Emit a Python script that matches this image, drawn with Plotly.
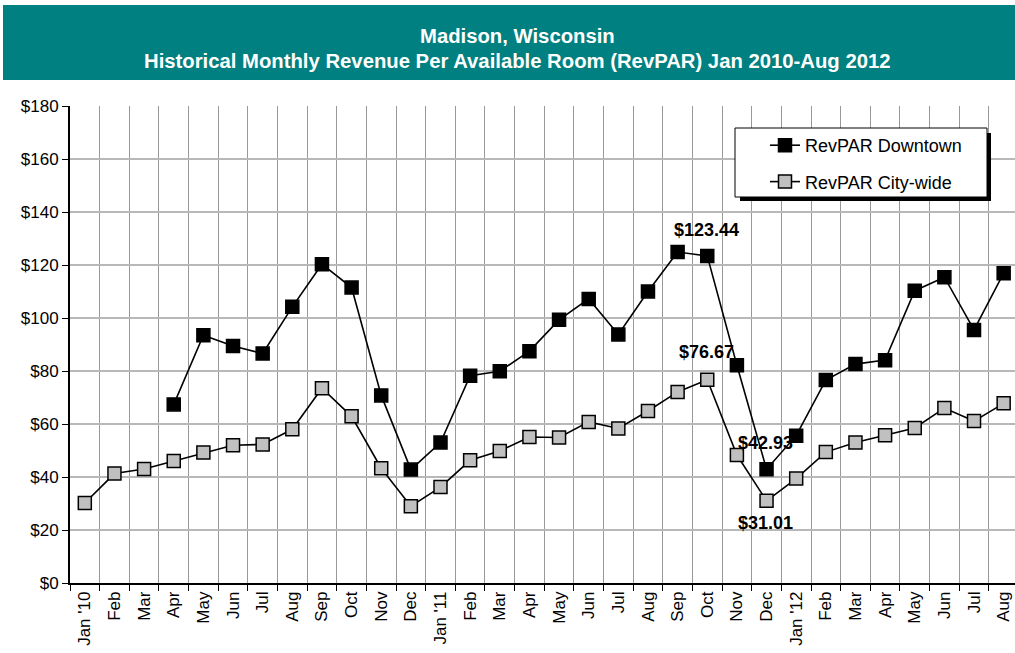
import plotly.graph_objects as go

# ---- data ----
months = ["Jan '10", "Feb", "Mar", "Apr", "May", "Jun", "Jul", "Aug", "Sep", "Oct", "Nov", "Dec",
          "Jan '11", "Feb", "Mar", "Apr", "May", "Jun", "Jul", "Aug", "Sep", "Oct", "Nov", "Dec",
          "Jan '12", "Feb", "Mar", "Apr", "May", "Jun", "Jul", "Aug"]
downtown = [None, None, None, 67.4, 93.5, 89.4, 86.6, 104.2, 120.3, 111.5, 70.8, 42.8,
            53.0, 78.2, 79.9, 87.5, 99.3, 107.2, 93.8, 110.0, 124.9, 123.44, 82.2, 42.93,
            55.6, 76.6, 82.6, 84.1, 110.3, 115.4, 95.5, 116.9]
citywide = [30.2, 41.3, 43.0, 46.0, 49.2, 52.0, 52.3, 58.0, 73.5, 62.9, 43.3, 29.0,
            36.2, 46.3, 49.8, 55.1, 54.9, 60.8, 58.3, 64.9, 72.1, 76.67, 48.3, 31.01,
            39.4, 49.4, 53.0, 55.8, 58.5, 66.0, 61.1, 67.8]
series_names = ["RevPAR Downtown", "RevPAR City-wide"]
title_lines = ["Madison, Wisconsin",
               "Historical Monthly Revenue Per Available Room (RevPAR) Jan 2010-Aug 2012"]
# labelled points: (series index, month index)
labelled = [(0, 21), (1, 21), (0, 23), (1, 23)]
y_ticks = list(range(0, 181, 20))

# ---- layout geometry (pixels) ----
W, H = 1015, 653
L, T, B = 70, 106, 70
PW = W - L
PH = H - T - B

def px(xp):
    return (xp - L) / PW

def py(yp):
    return (H - B - yp) / PH

FONT = "Liberation Sans, Arial, sans-serif"
x = list(range(len(months)))

fig = go.Figure()
fig.add_trace(go.Scatter(
    x=x, y=downtown, name=series_names[0], mode="lines+markers",
    line=dict(color="black", width=1.6),
    marker=dict(symbol="square", size=13, color="black", line=dict(color="black", width=1.5)),
    legendgroup="a", connectgaps=False))
fig.add_trace(go.Scatter(
    x=x, y=citywide, name=series_names[1], mode="lines+markers",
    line=dict(color="black", width=1.6),
    marker=dict(symbol="square", size=13, color="#C0C0C0", line=dict(color="black", width=1.5)),
    legendgroup="b"))

series = [downtown, citywide]
shifts = {(0, 21): 26, (1, 21): 28, (0, 23): 26, (1, 23): -22}
for s, i in labelled:
    v = series[s][i]
    fig.add_annotation(x=x[i], y=v, xref="x", yref="y", text=f"${v:.2f}",
                       showarrow=False, yshift=shifts[(s, i)], xshift=-1,
                       font=dict(family=FONT, size=18, color="black", weight="bold"))

# title banner
fig.add_shape(type="rect", xref="paper", yref="paper",
              x0=px(3), x1=px(1015), y0=py(80), y1=py(5),
              fillcolor="#008080", line=dict(width=0), layer="below")
for txt, yc in zip(title_lines, [36, 61]):
    fig.add_annotation(x=px(517), y=py(yc), xref="paper", yref="paper", text=txt,
                       showarrow=False, xanchor="center", yanchor="middle",
                       font=dict(family=FONT, size=20.3, color="white", weight="bold"))

# legend box with shadow
fig.add_shape(type="rect", xref="paper", yref="paper",
              x0=px(740), x1=px(991), y0=py(201), y1=py(133),
              fillcolor="black", line=dict(width=0), layer="above")
fig.add_shape(type="rect", xref="paper", yref="paper",
              x0=px(735), x1=px(987), y0=py(197), y1=py(128),
              fillcolor="white", line=dict(color="black", width=1), layer="above")

fig.update_layout(
    width=W, height=H,
    margin=dict(l=L, r=0, t=T, b=B, pad=0),
    paper_bgcolor="white", plot_bgcolor="white",
    font=dict(family=FONT, size=17, color="black"),
    showlegend=True,
    legend=dict(x=px(765), y=py(127), xanchor="left", yanchor="top",
                bgcolor="rgba(0,0,0,0)", borderwidth=0,
                font=dict(family=FONT, size=18, color="black"),
                tracegroupgap=10),
    xaxis=dict(
        range=[-0.5, -0.5 + PW / 29.64], showgrid=False, zeroline=False,
        tickmode="array", tickvals=x, ticktext=months, tickangle=-90, ticks="",
        showline=True, linecolor="black", linewidth=1.5,
        tickfont=dict(family=FONT, size=17, color="black"),
        minor=dict(tickmode="array", tickvals=[i + 0.5 for i in range(-1, len(months))],
                   showgrid=True, gridcolor="#999999", gridwidth=1,
                   ticks="outside", ticklen=6, tickcolor="black"),
        fixedrange=True),
    yaxis=dict(
        range=[0, 180], tickmode="array", tickvals=y_ticks,
        ticktext=[f"${v}" for v in y_ticks],
        showgrid=True, gridcolor="#b8b8b8", gridwidth=1.5, zeroline=False,
        showline=True, linecolor="black", linewidth=2,
        ticks="outside", ticklen=6, tickcolor="black",
        tickfont=dict(family=FONT, size=17, color="black"),
        fixedrange=True),
)

fig.write_html("out.html", config={"displayModeBar": False},
               post_script="document.body.style.margin='0';document.body.style.overflow='hidden';")
